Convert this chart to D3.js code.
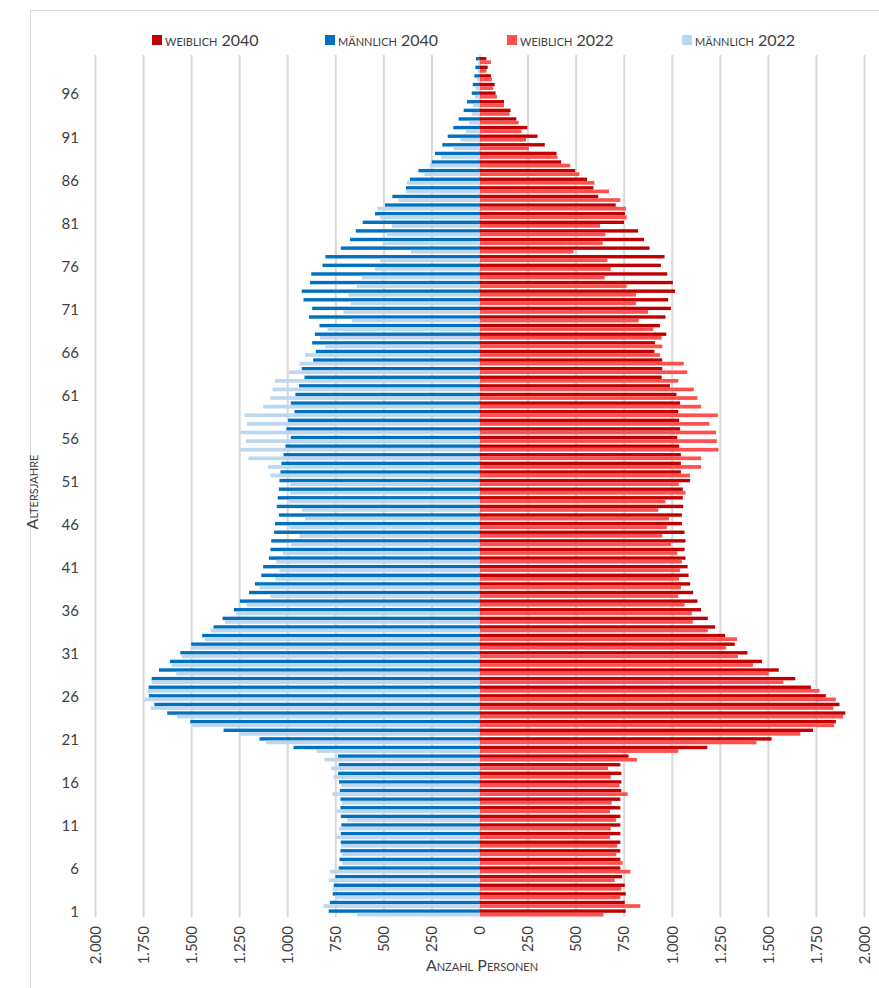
<!DOCTYPE html>
<html>
<head>
<meta charset="utf-8">
<script src="https://cdn.jsdelivr.net/npm/d3@7"></script>
<style>
  body { margin: 0; background: #fff; }
  text { font-family: Lato, "Open Sans", sans-serif; }
</style>
</head>
<body>
<div id="chart"></div>
<script>
// ages 1..100, values (index 0 = age 1)
var ages = d3.range(1, 101)
  , ageTicks = [1, 6, 11, 16, 21, 26, 31, 36, 41, 46, 51, 56, 61, 66, 71, 76, 81, 86, 91, 96]
  , xTicks = [-2000, -1750, -1500, -1250, -1000, -750, -500, -250, 0, 250, 500, 750, 1000, 1250, 1500, 1750, 2000]
  ;

var maennlich2040 = [787, 781, 766, 761, 752, 735, 731, 726, 724, 724,
  721, 724, 726, 726, 729, 733, 738, 735, 738, 970,
  1147, 1334, 1507, 1627, 1694, 1722, 1724, 1708, 1670, 1613,
  1559, 1502, 1445, 1386, 1339, 1280, 1249, 1201, 1171, 1138,
  1128, 1098, 1090, 1086, 1071, 1066, 1046, 1057, 1052, 1046,
  1043, 1038, 1033, 1022, 1012, 984, 1007, 998, 965, 984,
  960, 941, 913, 927, 868, 854, 873, 859, 835, 889,
  873, 918, 927, 884, 878, 819, 804, 724, 676, 646,
  610, 546, 494, 456, 385, 364, 320, 251, 234, 196,
  168, 139, 111, 85, 68, 43, 38, 29, 24, 21];

var maennlich2022 = [641, 814, 754, 766, 787, 781, 716, 719, 722, 750,
  736, 690, 745, 719, 767, 724, 762, 774, 809, 849,
  1112, 1247, 1499, 1577, 1712, 1746, 1729, 1705, 1580, 1604,
  1551, 1502, 1429, 1400, 1327, 1268, 1213, 1090, 1147, 1064,
  1043, 1060, 1026, 984, 939, 991, 910, 927, 993, 988,
  988, 1090, 1102, 1204, 1247, 1218, 1249, 1213, 1225, 1128,
  1090, 1079, 1066, 993, 939, 910, 806, 832, 793, 667,
  710, 671, 684, 641, 615, 546, 520, 359, 502, 485,
  459, 520, 534, 424, 385, 381, 289, 263, 204, 137,
  102, 73, 57, 43, 35, 26, 21, 17, 12, 9];

var weiblich2040 = [758, 753, 758, 753, 739, 730, 730, 730, 730, 730,
  730, 730, 730, 730, 735, 735, 735, 730, 773, 1182,
  1517, 1732, 1851, 1900, 1870, 1799, 1721, 1640, 1554, 1467,
  1391, 1325, 1275, 1223, 1185, 1150, 1131, 1109, 1093, 1085,
  1080, 1069, 1064, 1069, 1064, 1050, 1050, 1057, 1055, 1055,
  1093, 1045, 1045, 1045, 1036, 1026, 1041, 1036, 1031, 1041,
  1022, 988, 945, 948, 948, 907, 910, 969, 936, 965,
  993, 979, 1014, 1003, 974, 941, 960, 882, 853, 822,
  749, 754, 706, 615, 590, 557, 495, 422, 398, 337,
  299, 246, 189, 159, 125, 81, 76, 57, 40, 33];

var weiblich2022 = [642, 834, 730, 735, 701, 782, 742, 709, 714, 676,
  680, 708, 676, 685, 768, 725, 680, 666, 817, 1031,
  1438, 1666, 1842, 1889, 1839, 1851, 1766, 1578, 1502, 1420,
  1342, 1280, 1337, 1185, 1107, 1102, 1064, 1031, 1045, 1035,
  1040, 1050, 1026, 993, 948, 972, 983, 927, 964, 1069,
  1034, 1092, 1150, 1150, 1240, 1232, 1228, 1194, 1237, 1150,
  1131, 1112, 1031, 1078, 1060, 936, 948, 945, 901, 825,
  874, 811, 811, 763, 649, 680, 663, 486, 638, 652,
  624, 763, 759, 730, 671, 595, 517, 469, 403, 254,
  240, 216, 201, 154, 125, 88, 69, 62, 33, 57];

var series = [
    { name: "weiblich 2040", color: "#C00000", values: weiblich2040, sign: 1, slot: 0 }
  , { name: "männlich 2040", color: "#0070C0", values: maennlich2040, sign: -1, slot: 0 }
  , { name: "weiblich 2022", color: "#FF5050", values: weiblich2022, sign: 1, slot: 1 }
  , { name: "männlich 2022", color: "#BDD7EE", values: maennlich2022, sign: -1, slot: 1 }
  ];

var width = 879
  , height = 988
  , svg = d3.select("#chart").append("svg")
      .attr("width", width)
      .attr("height", height)
  ;

// outer frame
svg.append("path")
  .attr("d", "M30.5," + height + "V10.5H" + width)
  .attr("fill", "none")
  .attr("stroke", "#d9d9d9");

var x = d3.scaleLinear().domain([-2000, 2000]).range([95.5, 864.5])
  , y = d3.scaleBand().domain(ages.slice().reverse()).range([55.5, 916.5])
  , bw = y.bandwidth()
  ;

// grid
svg.append("g").selectAll("line").data(xTicks).enter().append("line")
  .attr("x1", function (d) { return x(d); })
  .attr("x2", function (d) { return x(d); })
  .attr("y1", 55)
  .attr("y2", 917)
  .attr("stroke", "#d9d9d9")
  .attr("stroke-width", 2);

// bars: 2040 on top half of the band, 2022 below it
series.forEach(function (s) {
  svg.append("g").selectAll("rect").data(s.values).enter().append("rect")
    .attr("x", function (d) { return s.sign > 0 ? x(0) : x(-d); })
    .attr("width", function (d) { return x(d) - x(0); })
    .attr("y", function (d, i) {
      var c = y(ages[i]) + bw / 2;
      return s.slot === 0 ? c - 2.8 : c + 0.6;
    })
    .attr("height", function () { return s.slot === 0 ? 3.4 : 3.7; })
    .attr("fill", s.color);
});

// y tick labels
svg.append("g").selectAll("text").data(ageTicks).enter().append("text")
  .attr("x", 79)
  .attr("y", function (d) { return y(d) + bw / 2; })
  .attr("dy", "0.35em")
  .attr("text-anchor", "end")
  .attr("font-size", 15)
  .attr("fill", "#404040")
  .text(function (d) { return d; });

// x tick labels, rotated
var fmt = d3.formatLocale({ decimal: ",", thousands: ".", grouping: [3], currency: ["", ""] }).format(",d");
svg.append("g").selectAll("text").data(xTicks).enter().append("text")
  .attr("transform", function (d) { return "translate(" + x(d) + ",926) rotate(-90)"; })
  .attr("dy", "0.35em")
  .attr("text-anchor", "end")
  .attr("font-size", 15)
  .attr("fill", "#404040")
  .text(function (d) { return fmt(Math.abs(d)); });

// axis titles
svg.append("text")
  .attr("x", 482)
  .attr("y", 971)
  .attr("text-anchor", "middle")
  .attr("font-size", 16)
  .style("font-variant", "small-caps")
  .attr("fill", "#404040")
  .text("Anzahl Personen");

svg.append("text")
  .attr("transform", "translate(38,492) rotate(-90)")
  .attr("text-anchor", "middle")
  .attr("font-size", 16)
  .style("font-variant", "small-caps")
  .attr("fill", "#404040")
  .text("Altersjahre");

// legend
var legendX = [152, 325, 507, 682]
  , legend = svg.append("g").selectAll("g").data(series).enter().append("g")
      .attr("transform", function (d, i) { return "translate(" + legendX[i] + ",40)"; })
  ;

legend.append("rect")
  .attr("x", 0)
  .attr("y", -5)
  .attr("width", 10)
  .attr("height", 10)
  .attr("fill", function (d) { return d.color; });

legend.append("text")
  .attr("x", 13)
  .attr("dy", "0.35em")
  .attr("font-size", 16)
  .style("font-variant", "small-caps")
  .attr("fill", "#404040")
  .text(function (d) { return d.name; });
</script>
</body>
</html>
